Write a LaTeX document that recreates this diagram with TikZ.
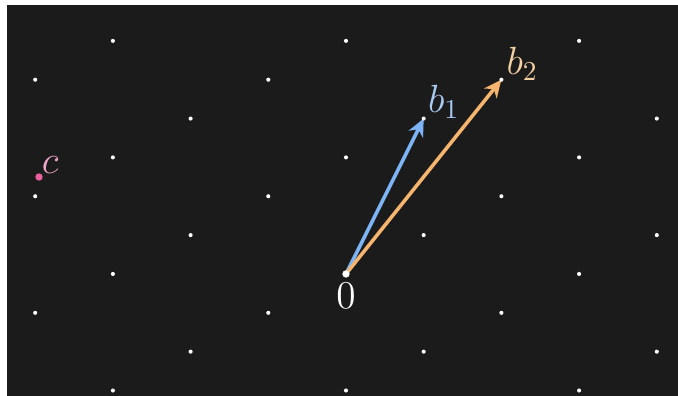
\documentclass[tikz,border=0pt]{standalone}
\usepackage{tikz}
\usetikzlibrary{arrows.meta,positioning}
\definecolor{bgdark}{HTML}{1B1B1B}
\definecolor{vecblue}{HTML}{7DB4F5}
\definecolor{lblblue}{HTML}{A9CAF3}
\definecolor{vecorange}{HTML}{F5B56E}
\definecolor{lblorange}{HTML}{F3D0A2}
\definecolor{ptpink}{HTML}{E8619E}
\definecolor{lblpink}{HTML}{EFA5C8}
\tikzset{
    latdot/.style={white},
    bigdot/.style={circle,fill=#1,inner sep=0pt,minimum size=2.7pt},
    myvec/.style={line width=1.3pt,-{Stealth[length=6.4pt,width=5.8pt,inset=2pt]}},
    mylabel/.style={inner sep=0pt,font=\Large},
}

\begin{document}
\begin{tikzpicture}
  \useasboundingbox (-4.453,-1.570) rectangle (4.273,3.526);
  \fill[bgdark] (-4.363,-1.570) rectangle (4.273,3.462);
  \coordinate (o) at (0,0);
  \coordinate (b1) at (1,2);
  \coordinate (b2) at (2,2.5);
  \draw[myvec,vecblue] (o) -- (b1);
  \draw[myvec,vecorange] (o) -- (b2);
  % lattice points
  \begin{scope}
    \clip (-4.363,-1.570) rectangle (4.273,3.462);
    \foreach \k in {-4,...,7}{
      \foreach \m in {-3,...,3}{
        \fill[latdot] ({\k+3*\m},{0.5*\k}) circle (0.75pt);
      }
    }
  \end{scope}
  \node[bigdot=white] (odot) at (o) {};
  \node[bigdot=ptpink] (c) at (-3.951,1.248) {};
  \node[mylabel,text=white,anchor=north] (olbl) at ([yshift=-0.11cm]o) {$0$};
  \node[mylabel,text=lblblue,anchor=base west] (b1lbl) at ([shift={(0.05,0.077)}]b1) {$b_1$};
  \node[mylabel,text=lblorange,anchor=base west] (b2lbl) at ([shift={(0.06,0.065)}]b2) {$b_2$};
  \node[mylabel,text=lblpink,anchor=base west] (clbl) at ([shift={(0.03,0.05)}]c.center) {$c$};
\end{tikzpicture}
\end{document}
